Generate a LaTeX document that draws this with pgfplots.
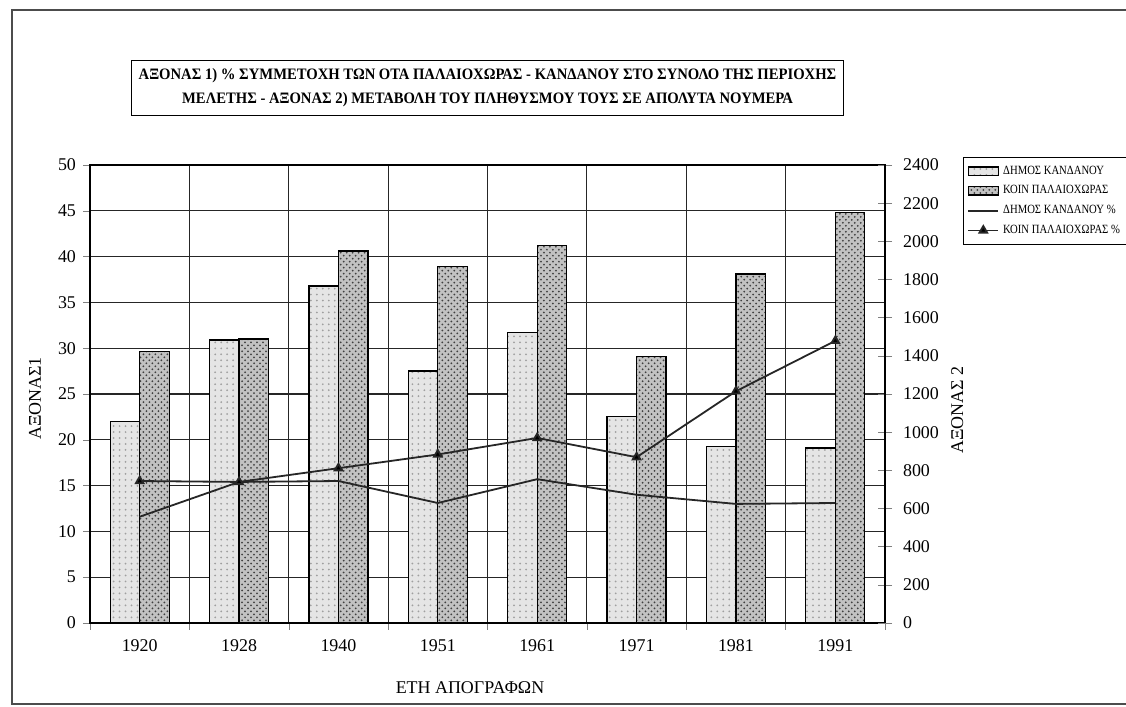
\documentclass[border=0pt]{standalone}
\usepackage{fontspec}
\setmainfont{Liberation Serif}
\newfontfamily\condfont[FakeStretch=0.85]{Liberation Serif}
\newfontfamily\titlefont[FakeStretch=0.92]{Liberation Serif}
\usepackage{pgfplots}
\usepackage{pgfplotstable}
\pgfplotsset{compat=1.18}
\usetikzlibrary{patterns}

\pgfplotstableread{
x kand palaio
0 1056 1421
1 1483 1488
2 1766 1949
3 1320 1867
4 1522 1978
5 1080 1397
6 924 1829
7 917 2150
}\bars

\pgfplotstableread{
x kandpct palaiopct
0 11.6 15.5
1 15.4 15.4
2 15.5 16.9
3 13.1 18.4
4 15.7 20.2
5 14.0 18.1
6 13.0 25.3
7 13.1 30.8
}\lines

\pgfplotsset{
  base/.style={
    scale only axis, width=397.5bp, height=229bp,
    at={(45bp,42bp)}, anchor=south west,
    xmin=-0.5, xmax=7.5,
    /pgf/number format/assume math mode=true,
    /pgf/number format/1000 sep={},
    tick label style={font=\fontsize{9}{10}\selectfont},
    axis line style={line width=0.7bp},
  },
  leftbar/.style={draw=black, line width=0.6bp, fill=gray!20, postaction={pattern=dots, pattern color=gray!75}},
  rightbar/.style={draw=black, line width=0.6bp, fill=gray!48, postaction={pattern=crosshatch dots, pattern color=black!75}},
  barleg/.style={legend image code/.code={\draw[##1] (0bp,-2bp) rectangle (15bp,2.2bp);}},
  lineleg/.style={legend image code/.code={\draw[##1, mark=none] (0bp,0bp) -- (15bp,0bp); \draw[##1] plot coordinates {(7.5bp,0bp)};}},
}

\begin{document}
\begin{tikzpicture}
% Axis 1 (left) : frame, grid, labels
\begin{axis}[base,
  ymin=0, ymax=50, ytick={0,5,...,50},
  ytick pos=left, tick align=outside, major tick length=3.5bp,
  ymajorgrids, xmajorgrids,
  grid style={line width=0.6bp, black!85},
  xtick={-0.5,0.5,...,7.5}, xticklabels={}, xtick pos=bottom,
  extra x ticks={0,1,2,3,4,5,6,7},
  extra x tick labels={1920,1928,1940,1951,1961,1971,1981,1991},
  extra x tick style={grid=none, major tick length=0pt, xticklabel style={yshift=-5bp}},
  xlabel={ΕΤΗ ΑΠΟΓΡΑΦΩΝ},
  xlabel style={at={(axis description cs:0.478,-0.142)}, anchor=center, font=\fontsize{9}{10}\selectfont},
  ylabel={ΑΞΟΝΑΣ1},
  ylabel style={at={(axis description cs:-0.069,0.49)}, anchor=center, font=\fontsize{9}{10}\selectfont},
  title={ΑΞΟΝΑΣ 1) \% ΣΥΜΜΕΤΟΧΗ ΤΩΝ ΟΤΑ ΠΑΛΑΙΟΧΩΡΑΣ - ΚΑΝΔΑΝΟΥ ΣΤΟ ΣΥΝΟΛΟ ΤΗΣ ΠΕΡΙΟΧΗΣ\\ΜΕΛΕΤΗΣ - ΑΞΟΝΑΣ 2) ΜΕΤΑΒΟΛΗ ΤΟΥ ΠΛΗΘΥΣΜΟΥ ΤΟΥΣ ΣΕ ΑΠΟΛΥΤΑ ΝΟΥΜΕΡΑ},
  title style={at={(axis description cs:0.5,1.142)}, anchor=center, draw=black, line width=0.6bp,
    align=center, font=\titlefont\bfseries\fontsize{8}{12}\selectfont, inner xsep=3.5bp, inner ysep=4bp},
]
\end{axis}
% Axis 2 (right) : bars
\begin{axis}[base,
  ymin=0, ymax=2400, ytick={0,200,...,2400},
  axis y line*=right, axis x line=none,
  tick align=center, major tick length=7bp,
  ylabel={ΑΞΟΝΑΣ 2},
  ylabel style={at={(axis description cs:1.091,0.465)}, anchor=center, font=\fontsize{9}{10}\selectfont},
  yticklabel style={xshift=2bp},
  ybar=0pt, bar width=14.75bp,
]
\addplot[leftbar] table[x=x, y=kand] {\bars};
\addplot[rightbar] table[x=x, y=palaio] {\bars};
\end{axis}
% Axis 1 again : percentage lines and legend
\begin{axis}[base,
  ymin=0, ymax=50, hide axis,
  legend style={at={(1.098,1.017)}, anchor=north west, draw=black, line width=0.5bp,
    font=\condfont\fontsize{6.3}{7}\selectfont, row sep=0.2bp, inner sep=2bp},
  legend cell align=left,
]
\addlegendimage{leftbar, barleg}
\addlegendimage{rightbar, barleg}
\addplot[black!85, line width=0.9bp, mark=none, lineleg] table[x=x, y=kandpct] {\lines};
\addplot[black!85, line width=0.9bp, mark=triangle*, mark size=2.2bp, mark options={fill=black}, lineleg] table[x=x, y=palaiopct] {\lines};
\legend{ΔΗΜΟΣ ΚΑΝΔΑΝΟΥ, ΚΟΙΝ ΠΑΛΑΙΟΧΩΡΑΣ, ΔΗΜΟΣ ΚΑΝΔΑΝΟΥ \%, ΚΟΙΝ ΠΑΛΑΙΟΧΩΡΑΣ \%}
\end{axis}
\draw[black!70, line width=0.8bp] (600bp,348.5bp) -- (6bp,348.5bp) -- (6bp,1.5bp) -- (600bp,1.5bp);
\pgfresetboundingbox
\useasboundingbox (0,0) rectangle (563bp,353.5bp);
\end{tikzpicture}
\end{document}
